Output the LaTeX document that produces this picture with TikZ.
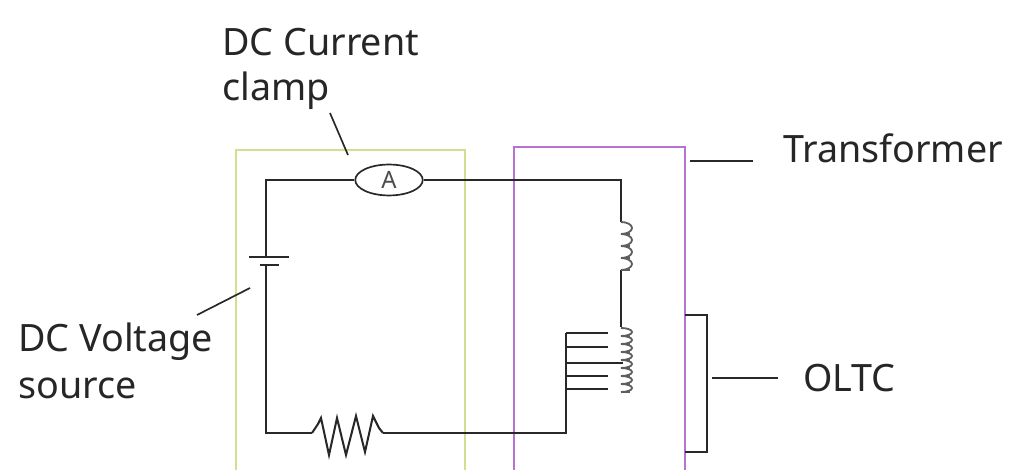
\documentclass[tikz,border=0pt]{standalone}
\usepackage{fontspec}
\setmainfont{Noto Sans}
\usetikzlibrary{positioning,shapes.geometric}
\definecolor{boxgreen}{RGB}{208,224,145}
\definecolor{boxpurple}{RGB}{182,115,212}
\definecolor{wire}{RGB}{40,40,40}
\tikzset{%
  label/.style={anchor=base west, inner sep=0pt, text=black!85, font=\fontsize{26.8}{30}\selectfont},
  circuit/.style={draw=wire, line width=1.45pt},% wires
  leader/.style={draw=wire, line width=1.2pt},% lines from labels
  winding/.style={draw=wire!75, line width=1.3pt},% coil turns
  meter/.style={ellipse, draw=wire, line width=1.2pt, fill=white, inner sep=0pt,
    minimum width=48pt, minimum height=22pt, text=black!70, font=\bfseries\fontsize{17}{17}\selectfont}
}
\newcommand*{\windings}[4]{% x, top y, number of turns, pitch
  \foreach \i in {1,...,#3} {
    \draw[winding] (#1,{#2+(\i-1)*#4}) arc (-90:90:11 and {#4/2});
    \draw[winding, line width=1pt] (#1,{#2+\i*#4}) -- ++(9,0);
  }}
\begin{document}
\begin{tikzpicture}[x=0.25mm,y=-0.25mm]
\useasboundingbox (0,0) rectangle (1010,470);

% boxes
\draw[boxgreen, line width=2.1pt] (236,470) |- (465,150) -- (465,470);
\draw[boxpurple, line width=2.1pt] (514,470) |- (685,147) -- (685,470);

% labels
\node[label] (clamplabel) at (222,56) {DC Current};
\node[label] (clamplabel2) at (222,101) {clamp};
\node[label] (translabel) at (783,163) {Transformer};
\node[label] (sourcelabel) at (18,351) {DC Voltage};
\node[label] (sourcelabel2) at (18,398) {source};
\node[label] (oltclabel) at (803,391) {OLTC};

% meter and battery
\node[meter] (meter) at (389,180) {A};
\coordinate (plus) at (266,257);
\coordinate (minus) at (266,265);
\coordinate (corner) at (266,180);
\coordinate (low) at (266,433);
\coordinate (resl) at (312,433);
\coordinate (resr) at (383,433);
\coordinate (tap) at (566,433);
\coordinate (top) at (621,180);
\coordinate (upcoil) at (621,222);
\coordinate (upend) at (621,270);
\coordinate (lowcoil) at (621,327);
\coordinate (bracket) at (707,315);

\draw[circuit] (meter.west) -- (corner) -- (plus);
\draw[circuit] (meter.east) -- (top) -- (upcoil);
\draw[circuit] (249,257) -- (289,257);
\draw[circuit] (260,265) -- (279,265);
\draw[circuit] (minus) -- (low) -- (resl);
\draw[circuit] (resl) -- (318,424) -- (321,418) -- (329,455) -- (337,418) -- (346,455) -- (356,416)
  -- (365,452) -- (373,416) -- (379,428) -- (resr);
\draw[circuit] (resr) -- (tap) -- (566,333);

% tap changer
\foreach \y/\e in {333/608,347/608,363/623,376/608,389/608}
  \draw[circuit] (566,\y) -- (\e,\y);
\draw[circuit] (upend) -- (lowcoil);
\windings{621}{222}{4}{12}
\windings{621}{328}{8}{8}

% OLTC bracket
\draw[circuit] (685,315) -- (bracket) -- (707,452) -- (685,452);

% leaders
\draw[leader] (330,113) -- (348,155);
\draw[leader] (197,315) -- (250,288);
\draw[leader] (690,161) -- (753,161);
\draw[leader] (712,378) -- (778,378);
\end{tikzpicture}
\end{document}
